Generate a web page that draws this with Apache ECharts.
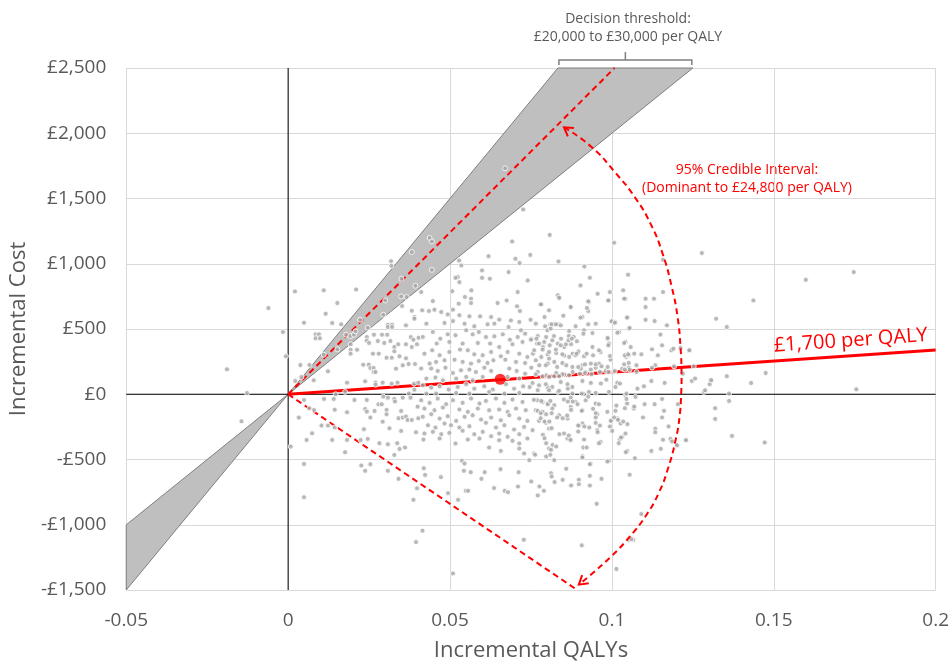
<!DOCTYPE html>
<html><head><meta charset="utf-8">
<script src="https://cdn.jsdelivr.net/npm/echarts@6/dist/echarts.min.js"></script>
<style>html,body{margin:0;padding:0;background:#fff}#c{width:952px;height:667px}</style>
</head><body><div id="c"></div>
<script>
// ---- data ----
const xTicks = [-0.05, 0, 0.05, 0.1, 0.15, 0.2];
const yTicks = [-1500, -1000, -500, 0, 500, 1000, 1500, 2000, 2500];
const thresholds = [20000, 30000];          // decision threshold (£ per QALY)
const ciUpper = 24800;                      // upper credible bound (£ per QALY)
const ciLowerEnd = [0.0893, -1500];         // end of the "dominant" bound ray
const meanPoint = [0.0655, 115];
const icer = 1700;
const icerLabel = '£1,700 per QALY';
const arcPoints = [[0.0852,2046],[0.0938,1893],[0.1012,1694],[0.1071,1510],[0.112,1304],[0.1157,1075],[0.1185,822],[0.1203,592],[0.1212,362],[0.1215,171],[0.1214,2],[0.1209,-174],[0.1197,-349],[0.1175,-556],[0.1145,-755],[0.1105,-931],[0.1055,-1092],[0.0997,-1245],[0.0935,-1383],[0.0898,-1459]];
const psaSamples = [
[0.0021,788],[0.011,796],[0.021,803],[0.0152,699],[0.0116,617],[0.0049,548],[0.0136,546],[0.0164,536],[0.0085,459],[0.0095,459],[0.0085,429],[0.0098,429],[0.0038,224],[0.0066,224],[0.0079,107],[0.0123,176],[0.0182,89],[0.0238,99],[0.0022,102],
[0.0382,1089],[0.035,885],[0.0393,831],[0.0349,750],[0.0366,745],[0.030,719],[0.0294,609],[0.0222,571],[0.0246,510],[0.0179,456],[0.0192,446],[0.0203,456],[0.0208,482],[0.0152,344],[0.011,303],[0.0041,132],[0.0437,1198],[0.0444,1171],[0.0444,953],[0.067,1732],
[0.0318,1020],[0.0319,984],[0.0352,676],[0.0382,640],[0.039,592],[0.0308,533],[0.0321,533],[0.0308,515],[0.0321,515],[0.0364,528],[0.0243,438],[0.0265,456],[0.029,456],[0.0306,456],[0.0243,411],[0.025,393],[0.0277,408],[0.0297,393],[0.0316,408],[0.0193,383],[0.0193,341],[0.0193,311],[0.0213,341],[0.0328,362],[0.0328,329],[0.034,383],[0.0379,438],[0.0387,418],[0.0403,433],[0.0364,383],[0.0382,362],[0.0398,383],[0.0262,311],[0.028,311],[0.0304,280],[0.032,280],[0.0232,227],[0.0249,227],[0.0254,201],[0.0264,201],[0.0264,171],[0.027,171],[0.0344,291],[0.0364,276],[0.0372,232],[0.0392,232],[0.0333,196],[0.0354,222],[0.027,89],[0.027,73],[0.0292,89],[0.032,81],[0.0338,89],[0.0389,81],[0.0402,89],[0.039,35],[0.0373,5],[0.0176,18],[0.0147,0],
[0.0411,783],[0.039,579],[0.0524,898],[0.0529,859],[0.0726,1416],[0.0808,1221],
[-0.0061,660],[-0.0016,477],[-0.0189,191],[-0.0127,10],[-0.0144,-207],[-0.0007,291],[0.0509,-1373],
[0.0692,1171],[0.0619,1058],[0.0748,1068],[0.0702,1038],[0.0715,1005],[0.0835,1018],[0.0528,1025],[0.0535,987],[0.0599,949],[0.0599,892],[0.0623,885],[0.0681,936],[0.0517,892],[0.074,872],[0.0566,796],[0.0546,745],[0.0507,790],[0.0709,783],[0.0781,689],[0.0833,758],[0.0838,735],[0.0872,668],[0.0792,592],[0.085,602],[0.081,536],[0.0822,536],[0.0833,536],[0.0749,571],
[0.0751,426],[0.0771,446],[0.0797,439],[0.0821,446],[0.0843,426],[0.0867,446],[0.0882,439],
[0.0769,388],[0.0787,362],[0.0808,375],[0.0833,388],[0.0853,362],[0.0874,383],
[0.0756,311],[0.0782,286],[0.0802,306],[0.0828,316],[0.0853,296],[0.0879,311],
[0.0751,204],[0.0776,222],[0.0802,235],[0.0831,209],[0.0859,222],
[0.0771,171],[0.0797,145],[0.0828,163],[0.0853,153],[0.0879,171],
[0.0746,56],[0.0771,31],[0.0802,51],[0.0833,18],[0.0864,43],
[0.0447,714],[0.0527,694],[0.0565,732],[0.0565,699],[0.0647,699],[0.0675,719],[0.0707,674],[0.0716,638],[0.0414,643],[0.0435,638],[0.0452,648],[0.0473,630],[0.0509,648],
[0.0493,612],[0.0529,605],[0.056,597],[0.0593,597],[0.0627,592],[0.0652,572],[0.0688,566],[0.0714,554],[0.0427,541],[0.0483,546],[0.0509,561],[0.0545,541],[0.0575,521],[0.0616,536],[0.0637,541],[0.0681,515],[0.0719,490],
[0.0416,439],[0.0447,477],[0.047,426],[0.0493,459],[0.0517,452],[0.055,490],[0.057,459],[0.0589,477],[0.0611,439],[0.0637,444],[0.0663,459],[0.0685,418],[0.0709,439],[0.0732,464],[0.0459,388],[0.0498,401],[0.0539,388],[0.0586,393],[0.0624,388],[0.0652,362],[0.0693,383],[0.0724,401],
[0.0421,311],[0.0445,337],[0.0468,299],[0.0498,324],[0.0531,342],[0.0555,337],[0.0575,306],[0.0601,299],[0.0627,324],[0.0657,291],[0.0678,324],[0.0714,311],[0.0739,286],[0.0437,235],[0.0457,248],[0.0483,260],[0.0514,265],[0.0539,248],[0.0565,235],[0.0589,255],[0.0616,240],[0.0634,260],[0.0671,265],[0.0704,248],[0.0732,240],
[0.0411,197],[0.0442,197],[0.0462,179],[0.0486,204],[0.0509,163],[0.0534,184],[0.056,189],[0.058,171],[0.0606,204],[0.0627,179],[0.0601,133],[0.0683,197],[0.0706,179],[0.0732,158],[0.0427,120],[0.0455,128],[0.0478,107],[0.0519,120],[0.055,133],[0.057,107],[0.0678,133],[0.0714,120],
[0.0416,69],[0.0442,51],[0.0468,61],[0.0496,36],[0.0524,56],[0.055,77],[0.0575,43],[0.0606,61],[0.0632,36],[0.0673,77],[0.0698,43],[0.0726,61],[0.0427,5],[0.0457,5],[0.0519,10],[0.056,5],[0.0621,18],[0.0668,5],[0.0714,10],
[0.0411,-46],[0.0437,-66],[0.0462,-33],[0.0488,-76],[0.0509,-46],[0.0539,-66],[0.0565,-33],[0.0591,-71],[0.0611,-51],[0.0642,-33],[0.0668,-66],[0.0693,-41],[0.0724,-59],[0.0421,-110],[0.0452,-122],[0.0478,-102],[0.0529,-117],[0.0555,-135],[0.0586,-110],[0.0621,-122],[0.0652,-117],[0.0678,-135],[0.0704,-110],[0.0734,-122],
[0.0416,-173],[0.0442,-153],[0.0468,-186],[0.0493,-168],[0.0519,-204],[0.0545,-173],[0.057,-161],[0.0596,-194],[0.0627,-179],[0.0657,-199],[0.0683,-161],[0.0714,-186],[0.0739,-204],[0.0432,-237],[0.0455,-255],[0.0483,-224],[0.0503,-237],[0.0529,-255],[0.056,-245],[0.0611,-219],[0.0642,-255],[0.0668,-237],[0.0698,-270],[0.0729,-250],
[0.0421,-301],[0.0447,-288],[0.0473,-306],[0.0498,-296],[0.0539,-280],[0.0575,-306],[0.0601,-288],[0.0627,-321],[0.0652,-301],[0.0678,-326],[0.0714,-306],[0.0418,-347],[0.0468,-339],[0.0517,-377],[0.0555,-347],[0.0591,-339],[0.0652,-352],[0.0693,-357],[0.0714,-377],[0.0739,-339],[0.0621,-408],[0.0657,-434],[0.0714,-416],[0.0729,-454],[0.0537,-510],[0.0545,-531],[0.0745,-505],
[0.0837,740],[0.0781,689],[0.0873,668],[0.0929,707],[0.0989,719],[0.1042,732],[0.0806,643],[0.0927,638],[0.1047,592],[0.0765,541],[0.0794,521],[0.0814,536],[0.0827,536],[0.0842,528],[0.0888,521],[0.0909,592],[0.095,541],[0.1001,561],[0.101,554],[0.1052,503],[0.0801,490],[0.0811,503],[0.0868,485],[0.0914,490],[0.094,469],[0.1022,477],
[0.075,418],[0.0767,426],[0.0775,388],[0.0791,401],[0.0816,413],[0.0842,375],[0.0858,383],[0.0866,413],[0.0876,426],[0.076,337],[0.0786,342],[0.0806,324],[0.0827,342],[0.0847,306],[0.0868,286],[0.0888,298],[0.0897,331],[0.0914,291],[0.094,362],[0.0965,324],[0.0986,426],[0.0991,388],[0.0996,265],[0.1044,286],[0.1052,298],[0.096,235],[0.0909,222],[0.0878,209],[0.0806,273],[0.0822,248],[0.0765,260],[0.0796,222],[0.0847,240],[0.1042,401],
[0.0904,196],[0.0919,171],[0.0935,189],[0.095,204],[0.0868,145],[0.0847,153],[0.0837,138],[0.0981,179],[0.1006,171],[0.1032,196],[0.1052,204],[0.0765,153],[0.0786,138],[0.0806,133],[0.0822,138],
[0.0755,87],[0.0775,69],[0.0796,77],[0.0816,56],[0.0842,94],[0.0863,77],[0.0878,56],[0.0806,31],[0.0837,26],[0.0878,5],[0.0914,0],[0.095,10],[0.0991,18],[0.1011,56],[0.1042,-8],[0.1073,-20],
[0.077,-46],[0.0786,-59],[0.0801,-71],[0.0822,-84],[0.0852,-41],[0.0873,-26],[0.0888,-59],[0.0919,-46],[0.095,-71],[0.0765,-122],[0.0786,-135],[0.0816,-110],[0.0837,-161],[0.0873,-97],[0.0909,-122],[0.0955,-153],[0.0986,-135],[0.1047,-71],[0.1068,-110],
[0.0775,-204],[0.0796,-219],[0.0863,-186],[0.0909,-224],[0.095,-219],[0.0996,-204],[0.1017,-186],[0.1027,-224],[0.0755,-275],[0.0806,-263],[0.0852,-301],[0.0899,-237],[0.093,-255],[0.0873,-352],[0.0863,-339],[0.0914,-347],[0.0965,-365],[0.1024,-347],[0.1032,-326],[0.0806,-416],[0.076,-454],[0.0822,-505],[0.0909,-475],[0.0934,-531],[0.0991,-510],[0.1047,-434],[0.1042,-301],[0.0955,-275],
[0.1007,1161],[0.1278,1082],[0.1158,1031],[0.0915,979],[0.0932,893],[0.105,916],[0.0903,834],[0.1035,796],[0.0994,783],[0.1158,783],[0.0956,770],[0.1038,732],[0.1104,732],[0.113,732],[0.0989,719],[0.0927,712],[0.1104,668],[0.0923,661],[0.1047,587],[0.1104,571],[0.1132,561],[0.0903,587],[0.1322,579],[0.0999,559],[0.1009,548],[0.0927,536],[0.117,528],[0.1055,508],[0.1017,472],[0.0912,464],[0.115,457],[0.0987,431],[0.0892,406],[0.1038,393],[0.0989,375],[0.1058,362],[0.1155,375],[0.1124,344],[0.1184,337],[0.119,349],[0.1212,355],[0.124,337],[0.096,337],[0.0896,324],[0.0891,311],[0.0922,311],[0.0942,298],[0.0994,293],[0.104,298],[0.105,306],[0.1069,311],[0.1091,306],[0.1142,298],[0.0917,229],[0.0935,235],[0.095,229],[0.0968,214],[0.0987,209],[0.1038,229],[0.1052,240],[0.1076,222],[0.1134,222],[0.1192,214],[0.0896,209],[0.0901,158],[0.0917,163],[0.0937,153],[0.0963,171],[0.0989,171],[0.1009,178],[0.104,189],[0.1055,189],[0.1076,171],[0.1124,204],[0.0909,102],[0.0935,87],[0.0966,82],[0.0983,112],[0.1017,89],[0.1025,82],[0.1122,102],[0.1099,61],[0.1163,87],[0.1247,102],[0.1305,112],[0.1302,77],[0.1079,43],[0.1045,5],[0.0929,18],[0.0907,5],[0.1219,158],[0.1253,214],[0.1284,18],
[0.0049,-44],[0.0111,-36],[0.0141,-36],[0.0205,-44],[0.0243,-44],[0.0279,-77],[0.0289,-77],[0.0308,-26],[0.0294,-18],[0.0328,-36],[0.033,-56],[0.0354,-26],[0.0378,-26],[0.04,-95],[0.0033,-179],[0.0066,-108],[0.008,-120],[0.0144,-118],[0.0182,-138],[0.0238,-113],[0.0243,-133],[0.0267,-128],[0.0304,-120],[0.0304,-153],[0.0254,-179],[0.0292,-210],[0.0349,-128],[0.0341,-184],[0.0354,-179],[0.0364,-171],[0.0369,-197],[0.0382,-197],[0.0402,-184],[0.0103,-240],[0.0123,-240],[0.0144,-255],[0.0313,-261],[0.0349,-281],[0.0395,-291],[0.0074,-299],[0.0057,-350],[0.0136,-350],[0.0182,-350],[0.0224,-350],[0.0246,-342],[0.0234,-268],[0.0282,-375],[0.0308,-383],[0.0337,-375],[0.0361,-408],[0.0344,-419],[0.0328,-465],[0.0008,-401],[0.0176,-444],[0.0049,-534],[0.0226,-546],[0.0254,-536],[0.0238,-587],[0.0308,-587],[0.0341,-648],[0.0419,-567],[0.0423,-618],[0.0398,-720],[0.0049,-789],[0.0387,-809],[0.0415,-1046],[0.0395,-1133],
[0.0759,-43],[0.0782,-51],[0.0802,-76],[0.081,-51],[0.0771,-127],[0.078,-145],[0.0797,-153],[0.0814,-145],[0.078,-184],[0.0792,-209],[0.0807,-209],[0.0831,-178],[0.0848,-184],[0.0862,-163],[0.0874,-120],[0.0879,-56],[0.0864,-56],[0.0814,-260],[0.0838,-306],[0.0867,-316],[0.0872,-349],[0.0787,-311],[0.0792,-337],[0.0797,-375],[0.0817,-388],[0.0828,-400],[0.0812,-426],[0.0797,-477],[0.081,-464],[0.0763,-464],
[0.0543,-587],[0.0564,-597],[0.0656,-574],[0.0712,-597],[0.0607,-597],[0.0597,-648],[0.0472,-635],[0.0751,-668],[0.0776,-707],[0.079,-740],[0.0771,-775],[0.0812,-605],[0.0814,-630],[0.0823,-673],[0.0859,-571],[0.0848,-656],[0.0874,-699],[0.0636,-719],[0.0669,-740],[0.0679,-750],[0.071,-707],[0.0549,-740],[0.0556,-740],[0.0494,-758],[0.0525,-809],[0.0728,-1115],
[0.0894,-76],[0.0907,-127],[0.0927,-18],[0.0942,-112],[0.095,-145],[0.095,-178],[0.096,-76],[0.0896,-240],[0.0896,-286],[0.0915,-247],[0.0912,-408],[0.0922,-408],[0.0909,-485],[0.0963,-240],[0.0956,-291],[0.096,-375],[0.0997,-204],[0.1007,-178],[0.1011,-127],[0.1014,-87],[0.104,-107],[0.1045,-36],[0.1019,-196],[0.1035,-209],[0.1048,-229],[0.0994,-247],[0.1001,-281],[0.1028,-332],[0.1021,-375],[0.1043,-444],[0.1071,-490],[0.1069,-94],[0.1101,-76],[0.1132,-76],[0.1155,-36],[0.1161,-127],[0.1155,-178],[0.1096,-178],[0.1175,-247],[0.1134,-265],[0.1134,-291],[0.1158,-349],[0.1181,-342],[0.1204,-76],[0.1202,-393],[0.1186,-362],[0.1228,-349],[0.1151,-418],[0.1122,-434],[0.1319,-107],[0.1319,-189],[0.0932,-536],[0.0986,-515],[0.0932,-625],[0.0898,-655],[0.0898,-689],[0.0932,-699],[0.0968,-648],[0.1055,-617],[0.0953,-839],[0.1091,-918],[0.1052,-1115],[0.1066,-1115],[0.0907,-1158],
[0.1599,877],[0.1747,936],[0.1437,719],[0.1355,515],[0.1475,163],[0.143,86],[0.1755,38],[0.1355,138],[0.1307,107],[0.1288,31],[0.1362,5],[0.1362,-51],[0.1371,-319],[0.1472,-370],[0.1257,120],[0.1239,337],[0.1229,-352],[0.1201,-390],[0.106,-1110],[0.1014,-1339]
];

// ---- chart ----
const FONT = 'Open Sans';
const xMin = xTicks[0], xMax = xTicks[xTicks.length - 1];
const yMin = yTicks[0], yMax = yTicks[yTicks.length - 1];
const RED = '#ff0000';
const fmtMoney = v => (v < 0 ? '-' : '') + '£' + String(Math.abs(v)).replace(/\B(?=(\d{3})+(?!\d))/g, ',');

const chart = echarts.init(document.getElementById('c'), null, {renderer: 'canvas'});
const n = arcPoints.length;
chart.setOption({
  animation: false,
  backgroundColor: '#ffffff',
  textStyle: {fontFamily: FONT},
  grid: {left: 126, right: 15, top: 68, bottom: 74, containLabel: false},
  xAxis: {
    type: 'value', min: xMin, max: xMax, interval: xTicks[1] - xTicks[0],
    axisLine: {show: false}, axisTick: {show: false},
    splitLine: {show: true, lineStyle: {color: '#d9d9d9', width: 1}},
    axisLabel: {color: '#595959', fontSize: 19, fontFamily: FONT, margin: 21,
      formatter: v => String(Math.round(v * 1000) / 1000)},
    name: 'Incremental QALYs', nameLocation: 'middle', nameGap: 50,
    nameTextStyle: {color: '#595959', fontSize: 22, fontFamily: FONT}
  },
  yAxis: {
    type: 'value', min: yMin, max: yMax, interval: yTicks[1] - yTicks[0],
    axisLine: {show: false}, axisTick: {show: false},
    splitLine: {show: true, lineStyle: {color: '#d9d9d9', width: 1}},
    axisLabel: {color: '#595959', fontSize: 19, fontFamily: FONT, margin: 20, formatter: fmtMoney},
    name: 'Incremental Cost', nameLocation: 'middle', nameGap: 91, nameRotate: 90,
    nameTextStyle: {color: '#595959', fontSize: 22, fontFamily: FONT}
  },
  series: [
    { // decision threshold band
      type: 'custom', z: 1, silent: true, data: [0],
      renderItem: (p, api) => {
        const pts = [[xMin, thresholds[1] * xMin], [yMax / thresholds[1], yMax],
                     [yMax / thresholds[0], yMax], [xMin, thresholds[0] * xMin]].map(d => api.coord(d));
        return {type: 'polygon', shape: {points: pts}, style: {fill: '#bfbfbf', stroke: '#7f7f7f', lineWidth: 1}};
      }
    },
    {type: 'line', z: 2, silent: true, symbol: 'none', data: [[xMin, 0], [xMax, 0]], lineStyle: {color: '#000', width: 1}},
    {type: 'line', z: 2, silent: true, symbol: 'none', data: [[0, yMin], [0, yMax]], lineStyle: {color: '#000', width: 1}},
    {type: 'line', z: 3, silent: true, symbol: 'none', data: [[0, 0], [yMax / ciUpper, yMax]], lineStyle: {color: RED, width: 2, type: [6, 4]}},
    {type: 'line', z: 3, silent: true, symbol: 'none', data: [[0, 0], ciLowerEnd], lineStyle: {color: RED, width: 2, type: [6, 4]}},
    {type: 'line', z: 3, silent: true, symbol: 'none', data: [[0, 0], [xMax, icer * xMax]], lineStyle: {color: RED, width: 3}},
    { // ICER label along the line
      type: 'custom', z: 7, silent: true, data: [[0, 0, xMax, icer * xMax]],
      renderItem: (p, api) => {
        const a = api.coord([api.value(0), api.value(1)]);
        const b = api.coord([api.value(2), api.value(3)]);
        const dx = b[0] - a[0], dy = b[1] - a[1], L = Math.hypot(dx, dy);
        const ux = dx / L, uy = dy / L;
        const px = b[0] - 7 * ux + 5 * uy, py = b[1] - 7 * uy - 5 * ux;
        return {type: 'text', x: px, y: py, rotation: Math.atan2(-dy, dx),
          style: {text: icerLabel, fill: RED, font: '20px "Open Sans"', textAlign: 'right', textVerticalAlign: 'bottom'}};
      }
    },
    { // PSA samples
      type: 'scatter', z: 4, silent: true, data: psaSamples, symbolSize: 5,
      itemStyle: {color: '#a6a6a6', borderColor: '#ffffff', borderWidth: 1}
    },
    { // credible interval arc
      type: 'custom', z: 5, silent: true, data: [0],
      renderItem: (p, api) => ({type: 'polyline', shape: {points: arcPoints.map(d => api.coord(d)), smooth: 0.5},
        style: {stroke: RED, lineWidth: 2, fill: null, lineDash: [6, 4]}})
    },
    { // arrow heads of the arc
      type: 'custom', z: 5, silent: true,
      data: [[...arcPoints[0], ...arcPoints[1]], [...arcPoints[n - 1], ...arcPoints[n - 2]]],
      renderItem: (p, api) => {
        const tip = api.coord([api.value(0), api.value(1)]);
        const prev = api.coord([api.value(2), api.value(3)]);
        const a = Math.atan2(tip[1] - prev[1], tip[0] - prev[0]);
        const L = 10, w = 0.55;
        const p1 = [tip[0] - L * Math.cos(a - w), tip[1] - L * Math.sin(a - w)];
        const p2 = [tip[0] - L * Math.cos(a + w), tip[1] - L * Math.sin(a + w)];
        return {type: 'polyline', shape: {points: [p1, tip, p2]}, style: {stroke: RED, lineWidth: 2, fill: null}};
      }
    },
    { // mean
      type: 'scatter', z: 6, silent: true, data: [meanPoint], symbolSize: 11, itemStyle: {color: RED}
    },
    { // bracket over the threshold band
      type: 'custom', z: 6, silent: true,
      data: [[yMax / thresholds[1], yMax / thresholds[0], yMax]],
      renderItem: (p, api) => {
        const a = api.coord([api.value(0), api.value(2)]);
        const b = api.coord([api.value(1), api.value(2)]);
        const y = a[1] - 8, m = (a[0] + b[0]) / 2;
        return {type: 'group', children: [
          {type: 'polyline', shape: {points: [[a[0] + 1, y + 5], [a[0] + 1, y], [b[0] - 1, y], [b[0] - 1, y + 5]]}, style: {stroke: '#7f7f7f', lineWidth: 1.5, fill: null}},
          {type: 'line', shape: {x1: m, y1: y, x2: m, y2: y - 8}, style: {stroke: '#7f7f7f', lineWidth: 1.5}}
        ]};
      }
    }
  ],
  graphic: [
    {type: 'text', x: 628, y: 10, style: {text: 'Decision threshold:\n£20,000 to £30,000 per QALY', fill: '#595959', font: '14px "Open Sans"', textAlign: 'center', lineHeight: 18}},
    {type: 'text', x: 747, y: 161, style: {text: '95% Credible Interval:\n(Dominant to £24,800 per QALY)', fill: RED, font: '14px "Open Sans"', textAlign: 'center', lineHeight: 18}}
  ]
});
</script></body></html>
